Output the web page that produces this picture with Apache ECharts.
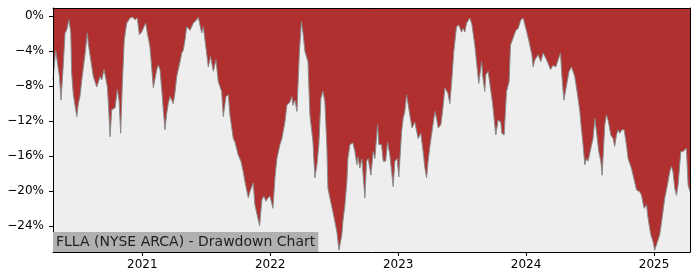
<!DOCTYPE html>
<html>
<head>
<meta charset="utf-8">
<script src="https://cdn.jsdelivr.net/npm/echarts@6/dist/echarts.min.js"></script>
<style>
html,body{margin:0;padding:0;background:#fff;}
#chart{width:700px;height:280px;}
</style>
</head>
<body>
<div id="chart"></div>
<script>
// Decimal-year positions of each observation
const dates = [
2020.302,2020.323,2020.352,2020.365,2020.383,2020.396,2020.409,2020.427,2020.441,2020.448,
2020.461,2020.474,2020.488,2020.500,2020.513,2020.527,2020.552,2020.570,2020.578,2020.591,
2020.617,2020.644,2020.656,2020.670,2020.683,2020.701,2020.716,2020.727,2020.737,2020.748,
2020.761,2020.787,2020.805,2020.818,2020.831,2020.844,2020.859,2020.878,2020.904,2020.925,
2020.943,2020.961,2020.977,2020.995,2021.013,2021.027,2021.039,2021.060,2021.073,2021.086,
2021.099,2021.113,2021.125,2021.138,2021.152,2021.164,2021.177,2021.191,2021.203,2021.216,
2021.230,2021.242,2021.255,2021.269,2021.295,2021.308,2021.320,2021.334,2021.347,2021.359,
2021.373,2021.386,2021.398,2021.425,2021.438,2021.464,2021.477,2021.490,2021.516,2021.534,
2021.555,2021.576,2021.594,2021.620,2021.633,2021.654,2021.672,2021.685,2021.711,2021.724,
2021.750,2021.771,2021.789,2021.802,2021.828,2021.841,2021.867,2021.880,2021.917,2021.935,
2021.951,2021.966,2021.982,2021.998,2022.013,2022.021,2022.037,2022.052,2022.076,2022.091,
2022.115,2022.130,2022.154,2022.170,2022.177,2022.193,2022.209,2022.216,2022.228,2022.244,
2022.255,2022.271,2022.295,2022.310,2022.334,2022.349,2022.365,2022.380,2022.396,2022.412,
2022.427,2022.443,2022.451,2022.466,2022.490,2022.521,2022.537,2022.560,2022.568,2022.584,
2022.599,2022.607,2022.623,2022.646,2022.662,2022.677,2022.685,2022.701,2022.716,2022.740,
2022.753,2022.766,2022.787,2022.805,2022.818,2022.839,2022.849,2022.870,2022.883,2022.902,
2022.917,2022.935,2022.961,2022.974,2022.992,2023.005,2023.027,2023.039,2023.052,2023.066,
2023.078,2023.091,2023.109,2023.130,2023.156,2023.177,2023.195,2023.209,2023.222,2023.234,
2023.248,2023.261,2023.287,2023.300,2023.313,2023.334,2023.352,2023.365,2023.388,2023.404,
2023.420,2023.435,2023.456,2023.474,2023.495,2023.508,2023.521,2023.534,2023.560,2023.576,
2023.599,2023.615,2023.630,2023.652,2023.662,2023.677,2023.685,2023.703,2023.716,2023.738,
2023.763,2023.781,2023.802,2023.810,2023.828,2023.847,2023.867,2023.878,2023.898,2023.920,
2023.938,2023.959,2023.977,2024.005,2024.023,2024.045,2024.055,2024.068,2024.094,2024.115,
2024.133,2024.154,2024.172,2024.191,2024.211,2024.232,2024.250,2024.269,2024.279,2024.295,
2024.316,2024.336,2024.355,2024.380,2024.398,2024.420,2024.427,2024.445,2024.459,2024.472,
2024.484,2024.498,2024.523,2024.537,2024.550,2024.568,2024.584,2024.594,2024.615,2024.628,
2024.641,2024.662,2024.680,2024.693,2024.706,2024.719,2024.732,2024.748,2024.766,2024.784,
2024.797,2024.823,2024.844,2024.863,2024.888,2024.902,2024.922,2024.941,2024.953,2024.974,
2024.992,2025.005,2025.027,2025.045,2025.063,2025.084,2025.105,2025.123,2025.136,2025.148,
2025.162,2025.175,2025.188,2025.209,2025.227,2025.240,2025.253,2025.266,2025.281
];
// Drawdown in percent
const drawdown = [
-7.3,-3.9,-6.9,-9.6,-5.4,-1.9,-1.6,-0.4,-1.9,-6.5,
-9.0,-9.2,-11.5,-10.0,-9.2,-7.3,-4.4,-1.9,-3.1,-4.4,
-6.9,-8.1,-8.0,-6.9,-7.3,-6.1,-6.3,-8.1,-10.5,-13.8,
-10.7,-10.5,-8.4,-9.6,-13.4,-7.7,-2.7,-0.8,-0.2,-0.1,
-0.4,-0.2,-2.1,-1.8,-1.2,-0.8,-1.9,-3.5,-5.8,-8.2,
-8.0,-6.1,-5.6,-6.1,-8.4,-10.7,-13.0,-11.1,-10.0,-9.2,
-9.6,-10.0,-8.8,-6.9,-5.2,-4.2,-3.9,-2.7,-1.2,-1.0,
-1.6,-1.8,-0.8,-0.4,-0.1,-1.9,-1.2,-1.4,-5.8,-4.6,
-6.3,-5.0,-7.5,-8.6,-11.5,-9.2,-9.0,-11.3,-14.0,-14.4,
-15.9,-16.6,-17.8,-18.9,-20.8,-20.1,-19.1,-21.6,-24.0,-21.0,
-20.6,-21.2,-20.8,-20.6,-21.5,-22.0,-18.5,-16.3,-14.7,-14.0,
-12.1,-10.2,-9.8,-9.2,-10.2,-9.6,-10.9,-8.2,-4.0,-0.6,
-1.8,-4.0,-5.2,-11.3,-14.4,-18.5,-17.0,-14.7,-9.4,-8.6,
-9.8,-15.1,-19.7,-20.8,-22.4,-24.7,-26.8,-25.0,-23.5,-21.6,
-18.9,-16.3,-14.7,-14.5,-15.5,-17.0,-16.1,-17.4,-16.3,-20.8,
-16.6,-16.3,-18.2,-15.5,-16.3,-12.4,-14.7,-14.7,-16.6,-16.6,
-14.4,-15.9,-19.5,-16.6,-16.3,-18.4,-13.2,-11.7,-10.9,-9.0,
-8.8,-11.3,-12.8,-12.1,-14.0,-13.4,-15.5,-17.4,-18.5,-16.6,
-14.9,-14.7,-10.9,-11.7,-12.8,-12.4,-10.2,-8.2,-8.8,-10.0,
-7.1,-4.0,-1.2,-1.0,-1.8,-1.4,-1.8,-0.8,-0.2,-0.9,
-3.3,-5.6,-7.7,-5.2,-7.0,-8.6,-6.7,-6.3,-6.1,-10.0,
-13.6,-11.9,-12.1,-13.4,-13.6,-8.6,-7.5,-3.3,-2.5,-1.6,
-1.4,-0.4,-0.2,-1.8,-2.9,-4.4,-5.8,-5.0,-4.4,-5.2,
-4.2,-4.8,-5.4,-6.1,-5.6,-5.8,-5.0,-4.2,-6.7,-9.6,
-7.9,-6.3,-5.8,-6.9,-8.6,-10.9,-12.1,-14.7,-17.0,-16.3,
-16.6,-16.8,-14.0,-11.7,-13.2,-15.5,-16.6,-18.2,-12.4,-11.3,
-11.9,-13.6,-14.0,-14.9,-13.6,-13.0,-13.4,-13.0,-13.0,-14.7,
-16.3,-17.4,-18.7,-19.9,-20.1,-20.5,-22.0,-21.6,-23.1,-25.0,
-25.8,-26.8,-25.8,-25.0,-23.1,-20.8,-19.3,-17.8,-17.2,-17.8,
-19.7,-20.5,-19.3,-15.5,-15.5,-15.3,-15.1,-19.3,-20.1
];
const yearTicks = [2021, 2022, 2023, 2024, 2025];
const pctTicks = [0, -4, -8, -12, -16, -20, -24];
const titleText = 'FLLA (NYSE ARCA) - Drawdown Chart';

const chart = echarts.init(document.getElementById('chart'), null, {renderer: 'canvas'});
const font = 'DejaVu Sans';
const seriesData = dates.map((d, i) => [d, drawdown[i]]);

chart.setOption({
  animation: false,
  backgroundColor: '#ffffff',
  title: {
    text: titleText,
    left: 53, top: 232,
    padding: [2, 3, 2, 3],
    backgroundColor: '#b0b0b0',
    textStyle: {fontFamily: font, fontSize: 14, fontWeight: 'normal', color: '#222', lineHeight: 16},
    z: 10
  },
  grid: {
    left: 53, right: 10, top: 8, bottom: 28,
    show: true, backgroundColor: '#eeeeee', borderWidth: 0
  },
  xAxis: [{
    type: 'value', min: 2020.302, max: 2025.281, z: 5,
    splitLine: {show: false},
    axisLine: {show: true, onZero: false, lineStyle: {color: '#000', width: 1}},
    axisTick: {show: true, customValues: yearTicks, length: 4, lineStyle: {color: '#000'}},
    axisLabel: {customValues: yearTicks, formatter: v => String(Math.round(v)), fontFamily: font, fontSize: 12, color: '#000', margin: 7}
  }, {
    type: 'value', position: 'top', min: 2020.302, max: 2025.281, z: 5,
    splitLine: {show: false},
    axisLine: {show: true, onZero: false, lineStyle: {color: '#000', width: 1}},
    axisTick: {show: false}, axisLabel: {show: false}
  }],
  yAxis: [{
    type: 'value', min: -27.0, max: 0.95, z: 5,
    splitLine: {show: false},
    axisLine: {show: true, onZero: false, lineStyle: {color: '#000', width: 1}},
    axisTick: {show: true, customValues: pctTicks, length: 4, lineStyle: {color: '#000'}},
    axisLabel: {customValues: pctTicks, formatter: v => (v < 0 ? '\u2212' + Math.abs(Math.round(v)) : String(Math.round(v))) + '%', fontFamily: font, fontSize: 12, color: '#000', margin: 9}
  }, {
    type: 'value', position: 'right', min: -27.0, max: 0.95, z: 5,
    splitLine: {show: false},
    axisLine: {show: true, onZero: false, lineStyle: {color: '#000', width: 1}},
    axisTick: {show: false}, axisLabel: {show: false}
  }],
  series: [{
    type: 'line',
    xAxisIndex: 0, yAxisIndex: 0,
    data: seriesData,
    showSymbol: false,
    symbol: 'none',
    lineStyle: {color: '#8a8a8a', width: 1},
    areaStyle: {color: '#b03030', opacity: 1, origin: 'end'},
    z: 2
  }]
});
</script>
</body>
</html>
